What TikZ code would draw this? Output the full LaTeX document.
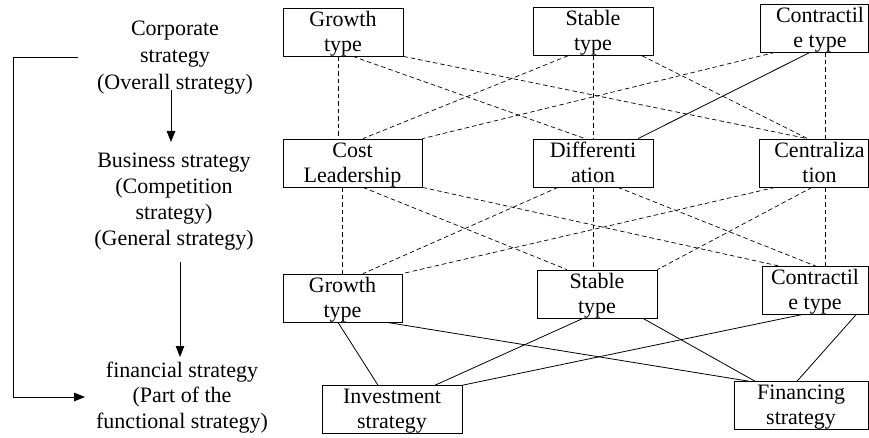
\documentclass[tikz,border=0pt]{standalone}
\usepackage{fontspec}
\setmainfont{Liberation Serif}
\usetikzlibrary{arrows.meta}
\newcommand\tstrut{\rule{0pt}{18pt}}
\newcommand\bstrut{\rule[-4.5pt]{0pt}{4.5pt}}
\begin{document}
\begin{tikzpicture}[x=1pt,y=-1pt,
  font=\fontsize{22}{25}\selectfont,
  box/.style={draw, line width=0.8pt, inner sep=0pt, align=center, minimum height=48pt},
  dsh/.style={line width=0.7pt, dash pattern=on 4.5pt off 3pt},
  sol/.style={line width=0.8pt},
  arr/.style={line width=0.8pt, -{Triangle[length=11pt,width=8.5pt]}},
  side/.style={inner sep=0pt, align=center, anchor=north}]
\useasboundingbox (0,0) rectangle (869,438);

% left column texts
\node[side, font=\fontsize{22}{27}\selectfont] (corp) at (175,17.5)
  {\tstrut Corporate\\strategy\\(Overall strategy)};
\node[side, font=\fontsize{22}{26}\selectfont] (bus) at (174,149)
  {\tstrut Business strategy\\(Competition\\strategy)\\(General strategy)};
\node[side, font=\fontsize{22}{25.5}\selectfont] (finst) at (182,359)
  {\tstrut financial strategy\\(Part of the\\functional strategy)};

\coordinate (a1s) at (171,90);
\coordinate (a1e) at (171,142);
\coordinate (a2s) at (180,262);
\coordinate (a2e) at (180,357);
\coordinate (b1) at (78,57);
\coordinate (b2) at (13,57);
\coordinate (b3) at (13,397);
\coordinate (b4) at (85,397);
\draw[arr] (a1s) -- (a1e);
\draw[arr] (a2s) -- (a2e);
\draw[arr] (b1) -- (b2) -- (b3) -- (b4);

% boxes
\node[box, minimum width=120pt] (g1) at (343,32) {\tstrut Growth\\type\bstrut};
\node[box, minimum width=120pt, minimum height=47pt] (s1) at (593,31.5) {\tstrut Stable\\type\bstrut};
\node[box, minimum width=108pt] (c1) at (814,28) {\tstrut\hspace*{12pt}Contractil\\\hspace*{12pt}e type\bstrut};
\node[box, minimum width=139pt] (k2) at (352.5,163) {\tstrut Cost\\Leadership\bstrut};
\node[box, minimum width=120pt] (d2) at (593,163) {\tstrut Differenti\\ation\bstrut};
\node[box, minimum width=109pt] (z2) at (813.5,163) {\tstrut\hspace*{12pt}Centraliza\\\hspace*{12pt}tion\bstrut};
\node[box, minimum width=119pt] (g3) at (342.5,298) {\tstrut Growth\\type\bstrut};
\node[box, minimum width=120pt] (s3) at (597,294) {\tstrut Stable\\type\bstrut};
\node[box, minimum width=106pt, minimum height=47pt] (c3) at (815,290.5) {\tstrut Contractil\\e type\bstrut};
\node[box, minimum width=140pt, minimum height=47pt] (inv) at (392,409.5) {\tstrut Investment\\strategy\bstrut};
\node[box, minimum width=134pt, minimum height=47pt] (fin) at (801,405.5) {\tstrut Financing\\strategy\bstrut};

% top to middle
\draw[dsh] ([xshift=-5pt]g1.south) -- ([xshift=-14.5pt]k2.north);
\draw[dsh] ([xshift=10pt]g1.south) -- ([xshift=-8pt]d2.north);
\draw[dsh] (g1.south east) -- ([xshift=-6pt]z2.north);
\draw[dsh] ([xshift=-25pt]s1.south) -- ([xshift=10.5pt]k2.north);
\draw[dsh] (s1.south) -- (d2.north);
\draw[dsh] ([xshift=49pt]s1.south) -- ([xshift=-6pt]z2.north);
\draw[dsh] ([xshift=-39pt]c1.south) -- (k2.north east);
\draw[sol] ([xshift=-4pt]c1.south) -- ([xshift=45pt]d2.north);
\draw[dsh] ([xshift=11pt]c1.south) -- ([xshift=11.5pt]z2.north);

% middle to third
\draw[dsh] ([xshift=-10.5pt]k2.south) -- ([xshift=-0.5pt]g3.north);
\draw[dsh] ([xshift=10.5pt]k2.south) -- ([xshift=-30pt]s3.north);
\draw[dsh] (k2.south east) -- ([xshift=-35pt]c3.north);
\draw[dsh] ([xshift=-35pt]d2.south) -- ([xshift=20.5pt]g3.north);
\draw[dsh] (d2.south) -- ([xshift=-4pt]s3.north);
\draw[dsh] ([xshift=25pt]d2.south) -- ([xshift=1pt]c3.north);
\draw[dsh] ([xshift=-38.5pt]z2.south) -- (g3.north east);
\draw[dsh] ([xshift=-1.5pt]z2.south) -- (s3.north east);
\draw[dsh] ([xshift=11.5pt]z2.south) -- ([xshift=10pt]c3.north);

% third to bottom
\draw[sol] ([xshift=-4.5pt]g3.south) -- ([xshift=-14pt]inv.north);
\draw[sol] ([xshift=44.5pt]g3.south) -- ([xshift=-52pt]fin.north);
\draw[sol] ([xshift=-14pt]s3.south) -- ([xshift=43pt]inv.north);
\draw[sol] ([xshift=46pt]s3.south) -- ([xshift=-46pt]fin.north);
\draw[sol] ([xshift=-14pt]c3.south) -- (inv.north east);
\draw[sol] ([xshift=41pt]c3.south) -- ([xshift=-4pt]fin.north);
\end{tikzpicture}
\end{document}
